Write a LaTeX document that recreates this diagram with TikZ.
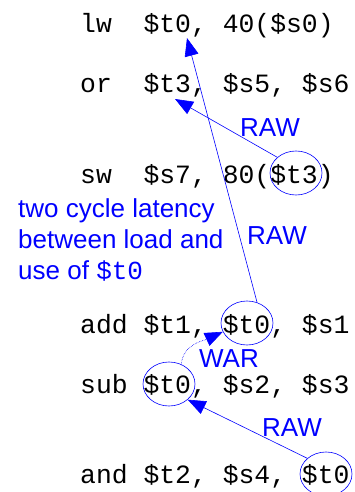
\documentclass[tikz,border=0pt]{standalone}
\usepackage{fontspec}
\setmainfont{Liberation Sans}
\setsansfont{Liberation Sans}
\setmonofont{Liberation Mono}
\usetikzlibrary{shapes.geometric, arrows.meta, positioning}

\begin{document}
\begin{tikzpicture}[
    x=1pt, y=1pt,
    code/.style={
        anchor=base west,
        inner sep=0pt,
        font=\ttfamily\fontsize{26.4}{30}\selectfont
    },
    reg/.style={
        ellipse,
        draw=blue,
        line width=0.6pt,
        minimum width=52pt,
        minimum height=44pt,
        inner sep=0pt
    },
    dep/.style={
        draw=blue,
        line width=0.6pt,
        -{Triangle[length=18pt,width=14pt]}
    },
    hazard/.style={
        text=blue,
        inner sep=0pt,
        font=\sffamily\fontsize{26}{30}\selectfont
    }
]
    \useasboundingbox (0,0) rectangle (354,-492);

    % Instruction lines
    \node[code] (lw)  at (80,-33)  {lw\ \ \$t0, 40(\$s0)};
    \node[code] (or)  at (80,-93)  {or\ \ \$t3, \$s5, \$s6};
    \node[code] (sw)  at (80,-183) {sw\ \ \$s7, 80(\$t3)};
    \node[code] (add) at (80,-333) {add \$t1, \$t0, \$s1};
    \node[code] (sub) at (80,-393) {sub \$t0, \$s2, \$s3};
    \node[code] (and) at (80,-483) {and \$t2, \$s4, \$t0};

    % Circled registers
    \node[reg] (swt)  at (296,-173) {};
    \node[reg] (addt) at (247,-323) {};
    \node[reg] (subt) at (169,-384) {};
    \node[reg] (andt) at (326,-474) {};

    % Arrow targets below the written registers
    \coordinate (lwt) at (187,-38);
    \coordinate (ort) at (175,-99);

    % Dependences
    \draw[dep] (addt.64) -- (lwt);
    \draw[dep] (swt.140) -- (ort);
    \draw[dep] (andt.140) -- (subt.-40);
    \draw[dep, densely dotted] (subt.58) to[out=85,in=205] (addt.200);

    % Labels
    \node[hazard] (raw1) at (270,-128) {RAW};
    \node[hazard] (raw2) at (277,-236) {RAW};
    \node[hazard] (war)  at (229,-359) {WAR};
    \node[hazard] (raw3) at (292,-428) {RAW};

    \node[hazard, anchor=north west, align=left,
          font=\sffamily\fontsize{26}{31}\selectfont] (note) at (18,-198)
        {two cycle latency\\between load and\\use of {\ttfamily\$t0}};

\end{tikzpicture}
\end{document}
